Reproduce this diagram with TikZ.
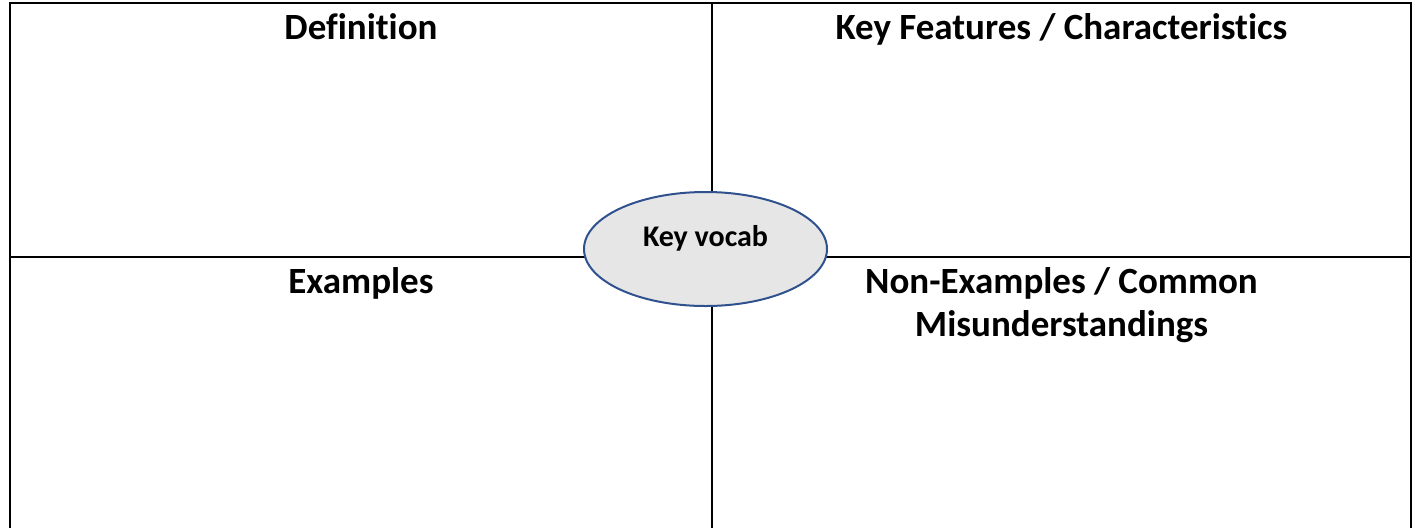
\documentclass[tikz,border=0pt]{standalone}
\usepackage{fontspec}
\setmainfont{Carlito}[Ligatures=CommonOff]
\usetikzlibrary{shapes.geometric}
\definecolor{vocabfill}{RGB}{231,230,230}
\definecolor{vocabedge}{RGB}{47,82,143}
\tikzset{
  heading/.style={font=\fontsize{37}{43}\selectfont\bfseries, inner sep=0pt, anchor=base, align=center},
  vocab/.style={
    ellipse, draw=vocabedge, line width=2pt, fill=vocabfill,
    minimum width=243pt, minimum height=114pt, inner sep=0pt,
    font=\fontsize{30}{34}\selectfont\bfseries, text height=10pt, text depth=14.6pt
  },
  frame/.style={line width=2pt},
  divider/.style={line width=1.5pt},
}
\begin{document}
\begin{tikzpicture}[x=1pt, y=-1pt]
  \useasboundingbox (0,0) rectangle (1419,528);
  % corners of the grid
  \coordinate (topleft) at (10,3);
  \coordinate (topright) at (1411,3);
  \coordinate (botleft) at (10,528);
  \coordinate (botright) at (1411,528);
  \coordinate (midtop) at (712,3);
  \coordinate (midbot) at (712,528);
  \coordinate (midleft) at (10,257);
  \coordinate (midright) at (1411,257);

  % grid
  \draw[frame] (botleft) -- (topleft) -- (topright) -- (botright);
  \draw[divider] (midtop) -- (midbot);
  \draw[divider] (midleft) -- (midright);

  % headings
  \node[heading] (definition) at (361,39) {Definition};
  \node[heading] (features) at (1061.5,39) {Key Features / Characteristics};
  \node[heading] (examples) at (361,293) {Examples};
  \node[heading] (nonexamples) at (1061.5,336) {Non-Examples / Common\\Misunderstandings};

  % centre
  \node[vocab] (vocab) at (705.5,249) {Key vocab};
\end{tikzpicture}
\end{document}
